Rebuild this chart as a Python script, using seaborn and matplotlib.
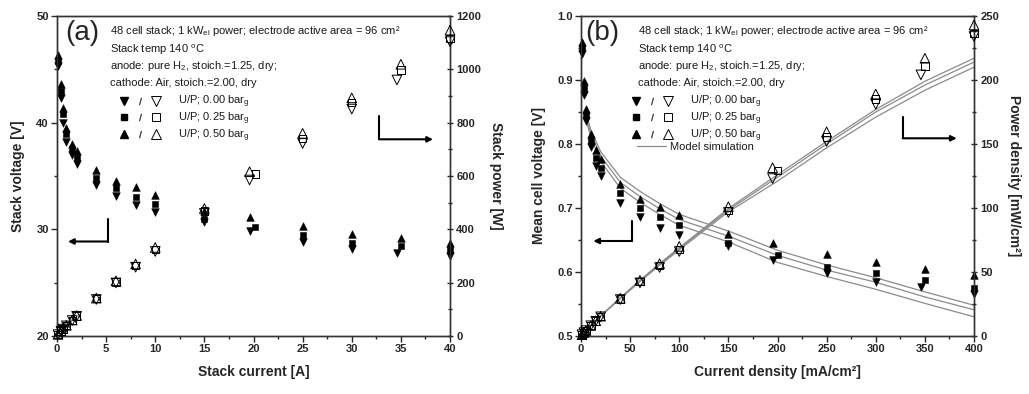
import numpy as np
import pandas as pd
import matplotlib
matplotlib.use("Agg")
import matplotlib.pyplot as plt
import seaborn as sns
from matplotlib.lines import Line2D
from matplotlib.patches import FancyArrowPatch
from matplotlib.legend_handler import HandlerTuple
from matplotlib.ticker import MultipleLocator

# ---------------- DATA ----------------
# (a) stack current [A], stack voltage [V], stack power [W]
cur_000 = [0.1, 0.4, 0.6, 0.95, 1.55, 2.0, 4, 6, 8, 10, 15, 19.6, 25, 30, 34.6, 40]
cur_025 = [0.1, 0.4, 0.6, 0.95, 1.55, 2.0, 4, 6, 8, 10, 15, 20.2, 25, 30, 35, 40]
cur_050 = [0.1, 0.4, 0.6, 0.95, 1.55, 2.0, 4, 6, 8, 10, 15, 19.6, 25, 30, 35, 40]
volt_000 = [45.3, 42.3, 40.0, 38.2, 37.0, 36.1, 34.2, 33.1, 32.3, 31.65, 30.7, 29.8, 28.85, 28.2, 27.75, 27.5]
volt_025 = [45.8, 43.0, 40.8, 38.9, 37.5, 36.7, 34.8, 33.85, 33.0, 32.4, 30.95, 30.2, 29.5, 28.7, 28.4, 28.05]
volt_050 = [46.3, 43.6, 41.4, 39.5, 38.0, 37.3, 35.6, 34.5, 33.95, 33.2, 31.7, 31.2, 30.35, 29.6, 29.15, 28.7]
pow_000 = [5, 18, 26, 38, 58, 74, 137, 199, 258, 317, 460, 585, 722, 851, 960, 1104]
pow_025 = [5, 19, 27, 39, 59, 75, 140, 203, 264, 324, 468, 607, 740, 876, 997, 1116]
pow_050 = [6, 20, 28, 40, 60, 77, 142, 207, 270, 332, 478, 616, 760, 893, 1019, 1147]

# (b) current density [mA/cm2], mean cell voltage [V], power density [mW/cm2]
jd_000 = [1, 3, 5, 10, 15, 20, 40, 60, 80, 100, 150, 195, 250, 300, 346, 400]
jd_025 = [1, 3, 5, 10, 15, 20, 40, 60, 80, 100, 150, 200, 250, 300, 350, 400]
jd_050 = [1, 3, 5, 10, 15, 20, 40, 60, 80, 100, 150, 195, 250, 300, 350, 400]
cv_000 = [0.940, 0.876, 0.836, 0.795, 0.766, 0.750, 0.708, 0.686, 0.669, 0.658, 0.640, 0.619, 0.598, 0.585, 0.576, 0.565]
cv_025 = [0.950, 0.888, 0.845, 0.805, 0.778, 0.762, 0.723, 0.700, 0.686, 0.673, 0.645, 0.627, 0.608, 0.598, 0.588, 0.575]
cv_050 = [0.960, 0.898, 0.855, 0.816, 0.790, 0.777, 0.738, 0.714, 0.702, 0.689, 0.660, 0.645, 0.628, 0.615, 0.604, 0.595]
pd_000 = [1.0, 2.6, 4.2, 8.0, 11.5, 15.0, 28.5, 41.5, 53.5, 66.0, 96.5, 123.0, 152.0, 181.0, 204.0, 234.0]
pd_025 = [1.0, 2.7, 4.2, 8.1, 11.7, 15.2, 29.0, 42.5, 55.0, 67.5, 98.0, 129.5, 155.5, 185.0, 211.0, 236.5]
pd_050 = [1.0, 2.7, 4.3, 8.2, 11.9, 15.5, 29.5, 43.5, 56.5, 70.0, 101.0, 131.5, 159.5, 189.0, 217.0, 243.0]

# model simulation curves (b)
model_j = [5, 10, 20, 40, 60, 80, 100, 150, 200, 250, 300, 350, 400]
model_v_000 = [0.838, 0.811, 0.773, 0.731, 0.709, 0.690, 0.673, 0.647, 0.615, 0.593, 0.573, 0.551, 0.530]
model_v_025 = [0.843, 0.817, 0.781, 0.740, 0.718, 0.699, 0.682, 0.656, 0.626, 0.603, 0.584, 0.561, 0.541]
model_v_050 = [0.848, 0.822, 0.788, 0.748, 0.726, 0.707, 0.690, 0.664, 0.634, 0.611, 0.591, 0.569, 0.548]
model_p_000 = [4.2, 8.1, 15.5, 29.2, 42.5, 55.2, 67.3, 97.0, 121, 147, 171, 192, 210]
model_p_025 = [4.2, 8.2, 15.6, 29.6, 43.1, 55.9, 68.2, 98.4, 124, 150, 175, 196, 214]
model_p_050 = [4.2, 8.2, 15.8, 29.9, 43.6, 56.6, 69.0, 99.6, 126, 152, 177, 199, 217]

pressures = ["0.00", "0.25", "0.50"]
markers_filled = ["v", "s", "^"]
marker_size = {"v": 30, "s": 18, "^": 30}

# ---------------- STYLE ----------------
sns.set_style("ticks")
plt.rcParams["font.family"] = ["Liberation Sans", "DejaVu Sans"]
plt.rcParams["mathtext.fontset"] = "custom"
plt.rcParams["mathtext.rm"] = "Liberation Sans"
plt.rcParams["mathtext.it"] = "Liberation Sans:italic"
plt.rcParams["mathtext.bf"] = "Liberation Sans:bold"
plt.rcParams["axes.edgecolor"] = "#333333"
plt.rcParams["axes.linewidth"] = 1.0

W, H = 1029, 394
fig = plt.figure(figsize=(W / 100, H / 100), dpi=100)


def px_axes(left, top, right, bottom):
    return fig.add_axes([left / W, 1 - bottom / H, (right - left) / W, (bottom - top) / H])


def scatter(ax, x, y, marker, filled):
    if filled:
        sns.scatterplot(x=x, y=y, ax=ax, marker=marker, s=marker_size[marker], color="black",
                        edgecolor="black", linewidth=0.4, legend=False, zorder=4, clip_on=False)
    else:
        sns.scatterplot(x=x, y=y, ax=ax, marker=marker, s=marker_size[marker] * 1.6, fc="none",
                        ec="black", linewidth=0.7, legend=False, zorder=4, clip_on=False)


def style_axes(ax, ax2, xmaj, xmin, ymaj, ymin, y2maj, y2min):
    ax.xaxis.set_major_locator(MultipleLocator(xmaj))
    ax.xaxis.set_minor_locator(MultipleLocator(xmin))
    ax.yaxis.set_major_locator(MultipleLocator(ymaj))
    ax.yaxis.set_minor_locator(MultipleLocator(ymin))
    ax2.yaxis.set_major_locator(MultipleLocator(y2maj))
    ax2.yaxis.set_minor_locator(MultipleLocator(y2min))
    ax.tick_params(which="major", direction="out", length=4, width=1, labelsize=8, pad=2,
                   top=False, right=False)
    ax.tick_params(which="minor", direction="out", length=2.5, width=1, top=False, right=False)
    ax2.tick_params(which="major", direction="inout", length=5, width=1, labelsize=8, pad=2)
    ax2.tick_params(which="minor", direction="inout", length=3.5, width=1)
    for lab in ax.get_xticklabels() + ax.get_yticklabels() + ax2.get_yticklabels():
        lab.set_fontweight("bold")
    for sp in ax.spines.values():
        sp.set_visible(True)


def info_text(ax, x0):
    lines = ["48 cell stack; 1 kW$_{\\mathrm{el}}$ power; electrode active area = 96 cm²",
             "Stack temp 140 $^{\\mathrm{o}}$C",
             "anode: pure H$_2$, stoich.=1.25, dry;",
             "cathode: Air, stoich.=2.00, dry"]
    ys = [31, 50, 66, 83]
    for line, y in zip(lines, ys):
        ax.text(x0, (336 - y) / 320, line, transform=ax.transAxes, fontsize=8,
                va="center", ha="left", color="#1a1a1a")


def add_legend(ax, x0, with_model):
    handles, labels = [], []
    for p, m in zip(pressures, markers_filled):
        ms = 5.5 if m != "s" else 4.2
        filled = Line2D([], [], ls="", marker=m, color="black", ms=ms)
        slash = Line2D([], [], ls="", marker="$/$", color="#333333", ms=5, mew=0.3)
        hollow = Line2D([], [], ls="", marker=m, mfc="none", mec="black", mew=0.7, ms=ms + 1)
        handles.append((filled, slash, hollow))
        labels.append(f"U/P; {p} bar$_\\mathrm{{g}}$")
    leg = ax.legend(handles, labels, handler_map={tuple: HandlerTuple(ndivide=None, pad=0.6)},
                    loc="upper left", bbox_to_anchor=(x0, (336 - 94) / 320), frameon=False,
                    fontsize=8, handlelength=3.6, handletextpad=1.6, labelspacing=0.02,
                    borderpad=0, borderaxespad=0)
    for t in leg.get_texts():
        t.set_color("#1a1a1a")
    if with_model:
        ax.add_artist(leg)
        ml = Line2D([], [], color="#8a8a8a", lw=0.9)
        leg2 = ax.legend([ml], ["Model simulation"], loc="upper left",
                         bbox_to_anchor=(x0 + 0.012, (336 - 142) / 320), frameon=False,
                         fontsize=8, handlelength=2.6, handletextpad=0.4,
                         borderpad=0, borderaxespad=0)
        leg2.get_texts()[0].set_color("#1a1a1a")


def l_arrow(p_start, p_corner, p_tip):
    f = lambda p: (p[0] / W, 1 - p[1] / H)
    fig.add_artist(Line2D([f(p_start)[0], f(p_corner)[0]], [f(p_start)[1], f(p_corner)[1]],
                          transform=fig.transFigure, color="black", lw=1.5))
    fig.add_artist(FancyArrowPatch(f(p_corner), f(p_tip), transform=fig.transFigure,
                                   arrowstyle="-|>", mutation_scale=8, color="black", lw=1.5,
                                   shrinkA=0, shrinkB=0))


# ---------------- PANEL (a) ----------------
ax_a = px_axes(57, 16, 450, 336)
ax_a2 = ax_a.twinx()
for x, v, p, m in zip([cur_000, cur_025, cur_050], [volt_000, volt_025, volt_050],
                      [pow_000, pow_025, pow_050], markers_filled):
    scatter(ax_a, x, v, m, True)
    scatter(ax_a2, x, p, m, False)
ax_a.set_xlim(0, 40)
ax_a.set_ylim(20, 50)
ax_a2.set_ylim(0, 1200)
style_axes(ax_a, ax_a2, 5, 2.5, 10, 5, 200, 100)
ax_a.set_xlabel("Stack current [A]", fontsize=10, fontweight="bold", labelpad=8)
ax_a.set_ylabel("Stack voltage [V]", fontsize=10, fontweight="bold", labelpad=8)
ax_a2.set_ylabel("Stack power [W]", fontsize=10, fontweight="bold", rotation=270, labelpad=16)
ax_a.text(0.02, (336 - 33) / 320, "(a)", transform=ax_a.transAxes, fontsize=20, va="center")
info_text(ax_a, (110 - 57) / 393)
add_legend(ax_a2, (120 - 57) / 393, False)

# ---------------- PANEL (b) ----------------
ax_b = px_axes(581, 16, 974, 336)
ax_b2 = ax_b.twinx()
for mv, mp in zip([model_v_000, model_v_025, model_v_050], [model_p_000, model_p_025, model_p_050]):
    sns.lineplot(x=model_j, y=mv, ax=ax_b, color="#8a8a8a", lw=0.9, zorder=2)
    sns.lineplot(x=model_j, y=mp, ax=ax_b2, color="#8a8a8a", lw=0.9, zorder=2)
for x, v, p, m in zip([jd_000, jd_025, jd_050], [cv_000, cv_025, cv_050],
                      [pd_000, pd_025, pd_050], markers_filled):
    scatter(ax_b, x, v, m, True)
    scatter(ax_b2, x, p, m, False)
ax_b.set_xlim(0, 400)
ax_b.set_ylim(0.5, 1.0)
ax_b2.set_ylim(0, 250)
style_axes(ax_b, ax_b2, 50, 25, 0.1, 0.05, 50, 25)
ax_b.set_xlabel("Current density [mA/cm²]", fontsize=10, fontweight="bold", labelpad=8)
ax_b.set_ylabel("Mean cell voltage [V]", fontsize=10, fontweight="bold", labelpad=8)
ax_b2.set_ylabel("Power density [mW/cm²]", fontsize=10, fontweight="bold", rotation=270, labelpad=16)
ax_b.text(0.012, (336 - 33) / 320, "(b)", transform=ax_b.transAxes, fontsize=20, va="center")
info_text(ax_b, (638 - 581) / 393)
add_legend(ax_b2, (632 - 581) / 393, True)

# ---------------- direction arrows ----------------
l_arrow((108, 219), (108, 241.5), (68, 241.5))
l_arrow((379, 116), (379, 139.3), (433, 139.3))
l_arrow((631.7, 220.7), (631.7, 241), (593.3, 241))
l_arrow((902.7, 116.7), (902.7, 138.3), (956.7, 138.3))

fig.savefig("out.png", dpi=100)
